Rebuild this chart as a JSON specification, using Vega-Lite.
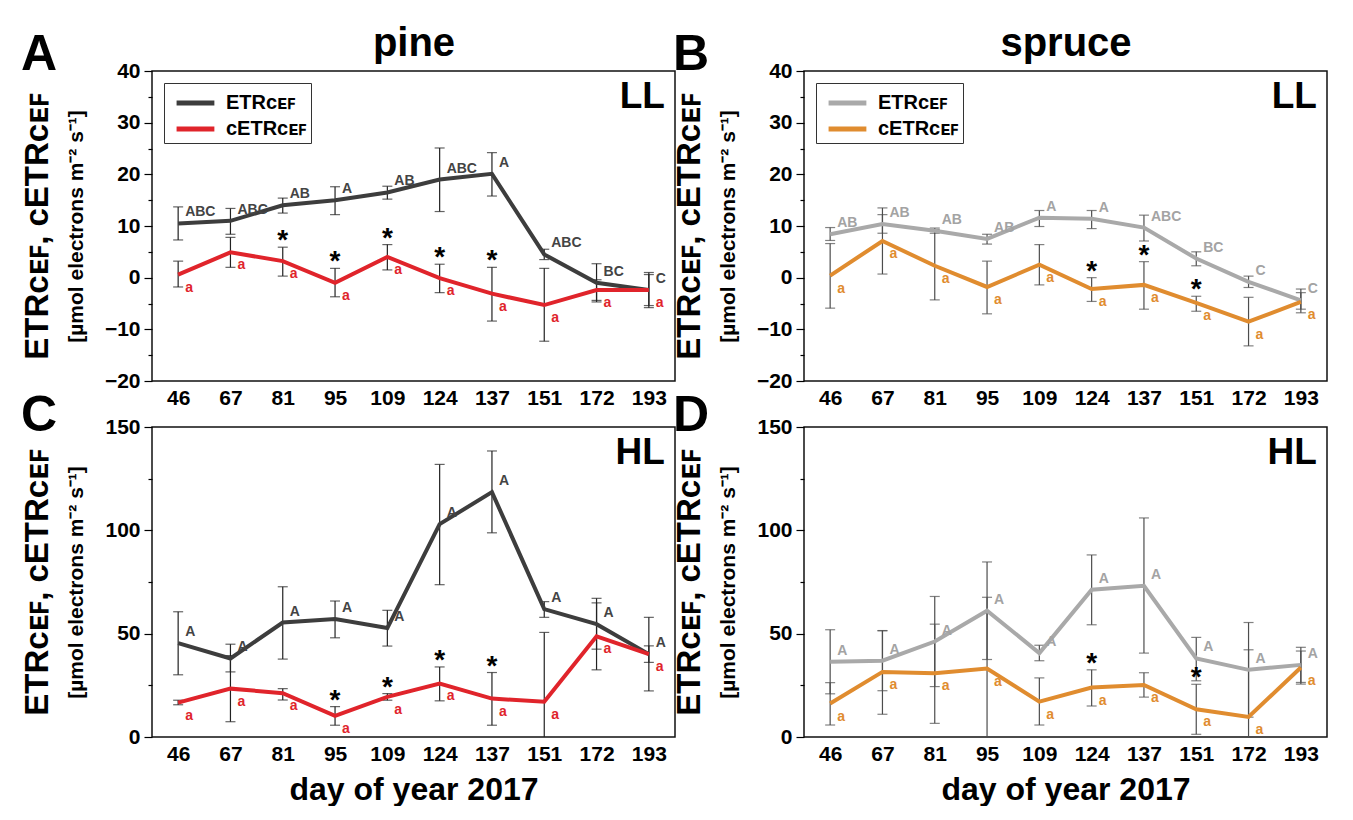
{
  "$schema": "https://vega.github.io/schema/vega-lite/v6.json",
  "background": "white",
  "padding": {"left": 20, "top": 22, "right": 0, "bottom": 0},
  "config": {
    "font": "Liberation Sans, Arial, sans-serif",
    "view": {"stroke": "#111", "strokeWidth": 1.5},
    "axis": {"labelFontWeight": "bold", "labelFontSize": 21, "labelColor": "#000", "titleFontWeight": "bold", "titleColor": "#000", "grid": false, "domain": false, "tickColor": "#000", "tickWidth": 1.2},
    "title": {"fontWeight": "bold", "color": "#000"},
    "legend": {"orient": "top-left", "offset": 12, "title": null, "strokeColor": "#333", "padding": 4, "symbolType": "M-0.55,0H2.25", "symbolStrokeWidth": 5, "symbolSize": 729, "labelFontSize": 20, "labelFontWeight": "bold", "labelColor": "#000", "rowPadding": 0, "fillColor": "white", "labelOffset": 26}
  },
  "datasets": {
    "d": [
      {"p":"A","day":"46","s":"ETR","v":10.5,"lo":7.3,"hi":13.7,"let":"ABC","star":""},
      {"p":"A","day":"67","s":"ETR","v":11.0,"lo":8.4,"hi":13.4,"let":"ABC","star":""},
      {"p":"A","day":"81","s":"ETR","v":14.0,"lo":12.5,"hi":15.4,"let":"AB","star":""},
      {"p":"A","day":"95","s":"ETR","v":15.0,"lo":12.2,"hi":17.6,"let":"A","star":""},
      {"p":"A","day":"109","s":"ETR","v":16.5,"lo":15.2,"hi":17.7,"let":"AB","star":""},
      {"p":"A","day":"124","s":"ETR","v":19.0,"lo":12.8,"hi":25.1,"let":"ABC","star":""},
      {"p":"A","day":"137","s":"ETR","v":20.1,"lo":15.8,"hi":24.2,"let":"A","star":""},
      {"p":"A","day":"151","s":"ETR","v":4.5,"lo":3.5,"hi":5.5,"let":"ABC","star":""},
      {"p":"A","day":"172","s":"ETR","v":-1.0,"lo":-4.7,"hi":2.7,"let":"BC","star":""},
      {"p":"A","day":"193","s":"ETR","v":-2.4,"lo":-5.8,"hi":1.0,"let":"C","star":""},
      {"p":"A","day":"46","s":"cETR","v":0.6,"lo":-1.8,"hi":3.2,"let":"a","star":""},
      {"p":"A","day":"67","s":"cETR","v":4.9,"lo":2.0,"hi":7.8,"let":"a","star":""},
      {"p":"A","day":"81","s":"cETR","v":3.2,"lo":0.3,"hi":5.9,"let":"a","star":"*"},
      {"p":"A","day":"95","s":"cETR","v":-1.0,"lo":-3.7,"hi":1.8,"let":"a","star":"*"},
      {"p":"A","day":"109","s":"cETR","v":4.0,"lo":1.5,"hi":6.4,"let":"a","star":"*"},
      {"p":"A","day":"124","s":"cETR","v":-0.1,"lo":-2.9,"hi":2.6,"let":"a","star":"*"},
      {"p":"A","day":"137","s":"cETR","v":-3.1,"lo":-8.4,"hi":2.0,"let":"a","star":"*"},
      {"p":"A","day":"151","s":"cETR","v":-5.3,"lo":-12.3,"hi":1.8,"let":"a","star":""},
      {"p":"A","day":"172","s":"cETR","v":-2.4,"lo":-4.4,"hi":-0.4,"let":"a","star":""},
      {"p":"A","day":"193","s":"cETR","v":-2.4,"lo":-5.4,"hi":0.6,"let":"a","star":""},

      {"p":"B","day":"46","s":"ETR","v":8.4,"lo":7.2,"hi":9.7,"let":"AB","star":""},
      {"p":"B","day":"67","s":"ETR","v":10.4,"lo":8.6,"hi":12.2,"let":"AB","star":""},
      {"p":"B","day":"81","s":"ETR","v":9.1,"lo":8.6,"hi":9.6,"let":"AB","star":""},
      {"p":"B","day":"95","s":"ETR","v":7.5,"lo":6.5,"hi":8.4,"let":"AB","star":""},
      {"p":"B","day":"109","s":"ETR","v":11.6,"lo":9.9,"hi":13.0,"let":"A","star":""},
      {"p":"B","day":"124","s":"ETR","v":11.4,"lo":9.5,"hi":13.0,"let":"A","star":""},
      {"p":"B","day":"137","s":"ETR","v":9.7,"lo":7.1,"hi":12.1,"let":"ABC","star":""},
      {"p":"B","day":"151","s":"ETR","v":3.7,"lo":2.3,"hi":5.0,"let":"BC","star":""},
      {"p":"B","day":"172","s":"ETR","v":-0.8,"lo":-1.9,"hi":0.3,"let":"C","star":""},
      {"p":"B","day":"193","s":"ETR","v":-4.4,"lo":-6.8,"hi":-2.2,"let":"C","star":""},
      {"p":"B","day":"46","s":"cETR","v":0.4,"lo":-5.9,"hi":6.6,"let":"a","star":""},
      {"p":"B","day":"67","s":"cETR","v":7.1,"lo":0.7,"hi":13.5,"let":"a","star":""},
      {"p":"B","day":"81","s":"cETR","v":2.3,"lo":-4.3,"hi":9.3,"let":"a","star":""},
      {"p":"B","day":"95","s":"cETR","v":-1.8,"lo":-7.0,"hi":3.2,"let":"a","star":""},
      {"p":"B","day":"109","s":"cETR","v":2.5,"lo":-1.4,"hi":6.4,"let":"a","star":""},
      {"p":"B","day":"124","s":"cETR","v":-2.2,"lo":-4.6,"hi":0.0,"let":"a","star":"*"},
      {"p":"B","day":"137","s":"cETR","v":-1.4,"lo":-6.1,"hi":3.1,"let":"a","star":"*"},
      {"p":"B","day":"151","s":"cETR","v":-4.9,"lo":-6.5,"hi":-3.6,"let":"a","star":"*"},
      {"p":"B","day":"172","s":"cETR","v":-8.5,"lo":-13.2,"hi":-3.8,"let":"a","star":""},
      {"p":"B","day":"193","s":"cETR","v":-4.7,"lo":-6.1,"hi":-2.9,"let":"a","star":""},

      {"p":"C","day":"46","s":"ETR","v":45.4,"lo":30.1,"hi":60.6,"let":"A","star":""},
      {"p":"C","day":"67","s":"ETR","v":38.0,"lo":31.5,"hi":44.9,"let":"A","star":""},
      {"p":"C","day":"81","s":"ETR","v":55.4,"lo":37.7,"hi":72.7,"let":"A","star":""},
      {"p":"C","day":"95","s":"ETR","v":57.1,"lo":48.0,"hi":65.8,"let":"A","star":""},
      {"p":"C","day":"109","s":"ETR","v":52.7,"lo":44.0,"hi":61.3,"let":"A","star":""},
      {"p":"C","day":"124","s":"ETR","v":103.0,"lo":73.7,"hi":131.9,"let":"A","star":""},
      {"p":"C","day":"137","s":"ETR","v":118.5,"lo":98.8,"hi":138.4,"let":"A","star":""},
      {"p":"C","day":"151","s":"ETR","v":61.9,"lo":57.9,"hi":65.5,"let":"A","star":""},
      {"p":"C","day":"172","s":"ETR","v":54.6,"lo":42.5,"hi":67.1,"let":"A","star":""},
      {"p":"C","day":"193","s":"ETR","v":40.1,"lo":22.3,"hi":57.9,"let":"A","star":""},
      {"p":"C","day":"46","s":"cETR","v":16.6,"lo":15.6,"hi":17.8,"let":"a","star":""},
      {"p":"C","day":"67","s":"cETR","v":23.4,"lo":7.4,"hi":39.4,"let":"a","star":""},
      {"p":"C","day":"81","s":"cETR","v":21.2,"lo":17.9,"hi":23.4,"let":"a","star":""},
      {"p":"C","day":"95","s":"cETR","v":10.2,"lo":5.7,"hi":14.7,"let":"a","star":"*"},
      {"p":"C","day":"109","s":"cETR","v":19.4,"lo":17.8,"hi":21.0,"let":"a","star":"*"},
      {"p":"C","day":"124","s":"cETR","v":25.9,"lo":17.5,"hi":33.9,"let":"a","star":"*"},
      {"p":"C","day":"137","s":"cETR","v":18.6,"lo":5.7,"hi":31.2,"let":"a","star":"*"},
      {"p":"C","day":"151","s":"cETR","v":17.1,"lo":-16.4,"hi":50.6,"let":"a","star":""},
      {"p":"C","day":"172","s":"cETR","v":48.7,"lo":32.5,"hi":64.9,"let":"a","star":""},
      {"p":"C","day":"193","s":"cETR","v":40.1,"lo":36.1,"hi":44.1,"let":"a","star":""},

      {"p":"D","day":"46","s":"ETR","v":36.4,"lo":20.9,"hi":51.9,"let":"A","star":""},
      {"p":"D","day":"67","s":"ETR","v":36.9,"lo":22.4,"hi":51.4,"let":"A","star":""},
      {"p":"D","day":"81","s":"ETR","v":46.2,"lo":24.4,"hi":68.0,"let":"A","star":""},
      {"p":"D","day":"95","s":"ETR","v":61.1,"lo":37.5,"hi":84.7,"let":"A","star":""},
      {"p":"D","day":"109","s":"ETR","v":40.6,"lo":36.9,"hi":44.4,"let":"A","star":""},
      {"p":"D","day":"124","s":"ETR","v":71.3,"lo":54.3,"hi":88.1,"let":"A","star":""},
      {"p":"D","day":"137","s":"ETR","v":73.2,"lo":40.6,"hi":106.0,"let":"A","star":""},
      {"p":"D","day":"151","s":"ETR","v":38.0,"lo":27.2,"hi":48.2,"let":"A","star":""},
      {"p":"D","day":"172","s":"ETR","v":32.5,"lo":9.6,"hi":55.4,"let":"A","star":""},
      {"p":"D","day":"193","s":"ETR","v":34.9,"lo":26.4,"hi":43.4,"let":"A","star":""},
      {"p":"D","day":"46","s":"cETR","v":16.2,"lo":5.8,"hi":26.3,"let":"a","star":""},
      {"p":"D","day":"67","s":"cETR","v":31.5,"lo":11.0,"hi":51.5,"let":"a","star":""},
      {"p":"D","day":"81","s":"cETR","v":30.9,"lo":6.6,"hi":54.6,"let":"a","star":""},
      {"p":"D","day":"95","s":"cETR","v":33.1,"lo":-1.4,"hi":67.6,"let":"a","star":""},
      {"p":"D","day":"109","s":"cETR","v":17.1,"lo":5.8,"hi":28.6,"let":"a","star":""},
      {"p":"D","day":"124","s":"cETR","v":23.9,"lo":15.0,"hi":32.5,"let":"a","star":"*"},
      {"p":"D","day":"137","s":"cETR","v":25.2,"lo":19.3,"hi":31.1,"let":"a","star":""},
      {"p":"D","day":"151","s":"cETR","v":13.4,"lo":1.3,"hi":25.5,"let":"a","star":"*"},
      {"p":"D","day":"172","s":"cETR","v":9.7,"lo":-22.8,"hi":42.2,"let":"a","star":""},
      {"p":"D","day":"193","s":"cETR","v":33.6,"lo":25.6,"hi":41.6,"let":"a","star":""}
    ]
  },
  "columns": 2,
  "spacing": {"row": 46, "column": 129},
  "bounds": "flush",
  "resolve": {"scale": {"color": "independent"}},
  "concat": [
    {
      "width": 523, "height": 310,
      "title": {"text": "A", "anchor": "start", "frame": "bounds", "fontSize": 50, "dy": 61},
      "data": {"name": "d"},
      "transform": [{"filter": "datum.p === 'A'"}],
      "resolve": {"axis": {"x": "independent", "y": "independent"}},
      "layer": [
        {"mark": {"type": "rule", "color": "#222", "strokeWidth": 1.2, "clip": true},
         "encoding": {
           "x": {"field": "day", "type": "ordinal", "scale": {"type": "point", "padding": 0.5, "domain": ["46","67","81","95","109","124","137","151","172","193"]}, "axis": {"orient": "bottom", "ticks": false, "labelPadding": 6, "labelAngle": 0, "title": null}},
           "y": {"field": "lo", "type": "quantitative", "scale": {"domain": [-20, 40], "nice": false, "zero": false}, "axis": {"orient": "left", "values": [-20,-15,-10,-5,0,5,10,15,20,25,30,35,40], "labelExpr": "datum.value % 10 === 0 ? datum.label : ''", "tickSize": {"condition": {"test": "datum.value % 10 === 0", "value": 8}, "value": 4}, "labelPadding": 4, "title": "[µmol electrons m⁻² s⁻¹]", "titleFontSize": 21, "titlePadding": 18}},
           "y2": {"field": "hi"}}},
        {"mark": {"type": "tick", "color": "#222", "thickness": 1.2, "size": 10, "clip": true},
         "encoding": {
           "x": {"field": "day", "type": "ordinal", "axis": {"orient": "top", "labels": false, "ticks": false, "domain": false, "title": "pine", "titleFontSize": 40, "titlePadding": 8}},
           "y": {"field": "lo", "type": "quantitative", "axis": {"orient": "left", "offset": 98, "labels": false, "ticks": false, "domain": false, "title": "ETRᴄᴇꜰ, cETRᴄᴇꜰ", "titleFontSize": 33, "titlePadding": 0}}}},
        {"mark": {"type": "tick", "color": "#222", "thickness": 1.2, "size": 10, "clip": true},
         "encoding": {"x": {"field": "day", "type": "ordinal", "axis": null}, "y": {"field": "hi", "type": "quantitative", "axis": null}}},
        {"mark": {"type": "line", "strokeWidth": 4},
         "encoding": {"x": {"field": "day", "type": "ordinal", "axis": null}, "y": {"field": "v", "type": "quantitative", "axis": null},
           "color": {"field": "s", "type": "nominal", "scale": {"domain": ["ETR", "cETR"], "range": ["#3d3d3d", "#e0242b"]}, "legend": {"labelExpr": "datum.label === 'ETR' ? 'ETRᴄᴇꜰ' : 'cETRᴄᴇꜰ'"}}}},
        {"transform": [{"filter": "datum.s === 'ETR'"}],
         "mark": {"type": "text", "align": "left", "baseline": "middle", "dx": 7, "dy": -11, "fontSize": 14, "fontWeight": "bold", "color": "#444"},
         "encoding": {"x": {"field": "day", "type": "ordinal", "axis": null}, "y": {"field": "v", "type": "quantitative", "axis": null}, "text": {"field": "let"}}},
        {"transform": [{"filter": "datum.s === 'cETR'"}],
         "mark": {"type": "text", "align": "left", "baseline": "middle", "dx": 7, "dy": 13, "fontSize": 14, "fontWeight": "bold", "color": "#e0242b"},
         "encoding": {"x": {"field": "day", "type": "ordinal", "axis": null}, "y": {"field": "v", "type": "quantitative", "axis": null}, "text": {"field": "let"}}},
        {"transform": [{"filter": "datum.star === '*'"}],
         "mark": {"type": "text", "align": "center", "baseline": "middle", "dy": -6, "fontSize": 28, "fontWeight": "bold", "color": "#000"},
         "encoding": {"x": {"field": "day", "type": "ordinal", "axis": null}, "y": {"field": "hi", "type": "quantitative", "axis": null}, "text": {"field": "star"}}},
        {"data": {"values": [{"label": "LL"}]},
         "mark": {"type": "text", "align": "right", "baseline": "top", "dx": 16, "dy": 8, "fontSize": 37, "fontWeight": "bold", "color": "#000"},
         "encoding": {"x": {"datum": "193", "type": "ordinal", "axis": null}, "y": {"datum": 40, "type": "quantitative", "axis": null}, "text": {"field": "label"}}}
      ]
    },
    {
      "width": 523, "height": 310,
      "title": {"text": "B", "anchor": "start", "frame": "bounds", "fontSize": 50, "dy": 61},
      "data": {"name": "d"},
      "transform": [{"filter": "datum.p === 'B'"}],
      "resolve": {"axis": {"x": "independent", "y": "independent"}},
      "layer": [
        {"mark": {"type": "rule", "color": "#4d4d4d", "strokeWidth": 1.2, "clip": true},
         "encoding": {
           "x": {"field": "day", "type": "ordinal", "scale": {"type": "point", "padding": 0.5, "domain": ["46","67","81","95","109","124","137","151","172","193"]}, "axis": {"orient": "bottom", "ticks": false, "labelPadding": 6, "labelAngle": 0, "title": null}},
           "y": {"field": "lo", "type": "quantitative", "scale": {"domain": [-20, 40], "nice": false, "zero": false}, "axis": {"orient": "left", "values": [-20,-15,-10,-5,0,5,10,15,20,25,30,35,40], "labelExpr": "datum.value % 10 === 0 ? datum.label : ''", "tickSize": {"condition": {"test": "datum.value % 10 === 0", "value": 8}, "value": 4}, "labelPadding": 4, "title": "[µmol electrons m⁻² s⁻¹]", "titleFontSize": 21, "titlePadding": 18}},
           "y2": {"field": "hi"}}},
        {"mark": {"type": "tick", "color": "#4d4d4d", "thickness": 1.2, "size": 10, "clip": true},
         "encoding": {
           "x": {"field": "day", "type": "ordinal", "axis": {"orient": "top", "labels": false, "ticks": false, "domain": false, "title": "spruce", "titleFontSize": 40, "titlePadding": 8}},
           "y": {"field": "lo", "type": "quantitative", "axis": {"orient": "left", "offset": 98, "labels": false, "ticks": false, "domain": false, "title": "ETRᴄᴇꜰ, cETRᴄᴇꜰ", "titleFontSize": 33, "titlePadding": 0}}}},
        {"mark": {"type": "tick", "color": "#4d4d4d", "thickness": 1.2, "size": 10, "clip": true},
         "encoding": {"x": {"field": "day", "type": "ordinal", "axis": null}, "y": {"field": "hi", "type": "quantitative", "axis": null}}},
        {"mark": {"type": "line", "strokeWidth": 4},
         "encoding": {"x": {"field": "day", "type": "ordinal", "axis": null}, "y": {"field": "v", "type": "quantitative", "axis": null},
           "color": {"field": "s", "type": "nominal", "scale": {"domain": ["ETR", "cETR"], "range": ["#a9a9a9", "#e08c2f"]}, "legend": {"labelExpr": "datum.label === 'ETR' ? 'ETRᴄᴇꜰ' : 'cETRᴄᴇꜰ'"}}}},
        {"transform": [{"filter": "datum.s === 'ETR'"}],
         "mark": {"type": "text", "align": "left", "baseline": "middle", "dx": 7, "dy": -11, "fontSize": 14, "fontWeight": "bold", "color": "#a3a3a3"},
         "encoding": {"x": {"field": "day", "type": "ordinal", "axis": null}, "y": {"field": "v", "type": "quantitative", "axis": null}, "text": {"field": "let"}}},
        {"transform": [{"filter": "datum.s === 'cETR'"}],
         "mark": {"type": "text", "align": "left", "baseline": "middle", "dx": 7, "dy": 13, "fontSize": 14, "fontWeight": "bold", "color": "#e08c2f"},
         "encoding": {"x": {"field": "day", "type": "ordinal", "axis": null}, "y": {"field": "v", "type": "quantitative", "axis": null}, "text": {"field": "let"}}},
        {"transform": [{"filter": "datum.star === '*'"}],
         "mark": {"type": "text", "align": "center", "baseline": "middle", "dy": -6, "fontSize": 28, "fontWeight": "bold", "color": "#000"},
         "encoding": {"x": {"field": "day", "type": "ordinal", "axis": null}, "y": {"field": "hi", "type": "quantitative", "axis": null}, "text": {"field": "star"}}},
        {"data": {"values": [{"label": "LL"}]},
         "mark": {"type": "text", "align": "right", "baseline": "top", "dx": 16, "dy": 8, "fontSize": 37, "fontWeight": "bold", "color": "#000"},
         "encoding": {"x": {"datum": "193", "type": "ordinal", "axis": null}, "y": {"datum": 40, "type": "quantitative", "axis": null}, "text": {"field": "label"}}}
      ]
    },
    {
      "width": 523, "height": 310,
      "title": {"text": "C", "anchor": "start", "frame": "bounds", "fontSize": 50, "dy": 29},
      "data": {"name": "d"},
      "transform": [{"filter": "datum.p === 'C'"}],
      "resolve": {"axis": {"x": "independent", "y": "independent"}},
      "layer": [
        {"mark": {"type": "rule", "color": "#222", "strokeWidth": 1.2, "clip": true},
         "encoding": {
           "x": {"field": "day", "type": "ordinal", "scale": {"type": "point", "padding": 0.5, "domain": ["46","67","81","95","109","124","137","151","172","193"]}, "axis": {"orient": "bottom", "ticks": false, "labelPadding": 6, "labelAngle": 0, "title": "day of year 2017", "titleFontSize": 32, "titlePadding": 10}},
           "y": {"field": "lo", "type": "quantitative", "scale": {"domain": [0, 150], "nice": false, "zero": false}, "axis": {"orient": "left", "values": [0,25,50,75,100,125,150], "labelExpr": "datum.value % 50 === 0 ? datum.label : ''", "tickSize": {"condition": {"test": "datum.value % 50 === 0", "value": 8}, "value": 4}, "labelPadding": 4, "title": "[µmol electrons m⁻² s⁻¹]", "titleFontSize": 21, "titlePadding": 18}},
           "y2": {"field": "hi"}}},
        {"mark": {"type": "tick", "color": "#222", "thickness": 1.2, "size": 10, "clip": true},
         "encoding": {
           "x": {"field": "day", "type": "ordinal", "axis": null},
           "y": {"field": "lo", "type": "quantitative", "axis": {"orient": "left", "offset": 98, "labels": false, "ticks": false, "domain": false, "title": "ETRᴄᴇꜰ, cETRᴄᴇꜰ", "titleFontSize": 33, "titlePadding": 0}}}},
        {"mark": {"type": "tick", "color": "#222", "thickness": 1.2, "size": 10, "clip": true},
         "encoding": {"x": {"field": "day", "type": "ordinal", "axis": null}, "y": {"field": "hi", "type": "quantitative", "axis": null}}},
        {"mark": {"type": "line", "strokeWidth": 4},
         "encoding": {"x": {"field": "day", "type": "ordinal", "axis": null}, "y": {"field": "v", "type": "quantitative", "axis": null},
           "color": {"field": "s", "type": "nominal", "scale": {"domain": ["ETR", "cETR"], "range": ["#3d3d3d", "#e0242b"]}, "legend": null}}},
        {"transform": [{"filter": "datum.s === 'ETR'"}],
         "mark": {"type": "text", "align": "left", "baseline": "middle", "dx": 7, "dy": -11, "fontSize": 14, "fontWeight": "bold", "color": "#444"},
         "encoding": {"x": {"field": "day", "type": "ordinal", "axis": null}, "y": {"field": "v", "type": "quantitative", "axis": null}, "text": {"field": "let"}}},
        {"transform": [{"filter": "datum.s === 'cETR'"}],
         "mark": {"type": "text", "align": "left", "baseline": "middle", "dx": 7, "dy": 13, "fontSize": 14, "fontWeight": "bold", "color": "#e0242b"},
         "encoding": {"x": {"field": "day", "type": "ordinal", "axis": null}, "y": {"field": "v", "type": "quantitative", "axis": null}, "text": {"field": "let"}}},
        {"transform": [{"filter": "datum.star === '*'"}],
         "mark": {"type": "text", "align": "center", "baseline": "middle", "dy": -6, "fontSize": 28, "fontWeight": "bold", "color": "#000"},
         "encoding": {"x": {"field": "day", "type": "ordinal", "axis": null}, "y": {"field": "hi", "type": "quantitative", "axis": null}, "text": {"field": "star"}}},
        {"data": {"values": [{"label": "HL"}]},
         "mark": {"type": "text", "align": "right", "baseline": "top", "dx": 16, "dy": 8, "fontSize": 37, "fontWeight": "bold", "color": "#000"},
         "encoding": {"x": {"datum": "193", "type": "ordinal", "axis": null}, "y": {"datum": 150, "type": "quantitative", "axis": null}, "text": {"field": "label"}}}
      ]
    },
    {
      "width": 523, "height": 310,
      "title": {"text": "D", "anchor": "start", "frame": "bounds", "fontSize": 50, "dy": 29},
      "data": {"name": "d"},
      "transform": [{"filter": "datum.p === 'D'"}],
      "resolve": {"axis": {"x": "independent", "y": "independent"}},
      "layer": [
        {"mark": {"type": "rule", "color": "#4d4d4d", "strokeWidth": 1.2, "clip": true},
         "encoding": {
           "x": {"field": "day", "type": "ordinal", "scale": {"type": "point", "padding": 0.5, "domain": ["46","67","81","95","109","124","137","151","172","193"]}, "axis": {"orient": "bottom", "ticks": false, "labelPadding": 6, "labelAngle": 0, "title": "day of year 2017", "titleFontSize": 32, "titlePadding": 10}},
           "y": {"field": "lo", "type": "quantitative", "scale": {"domain": [0, 150], "nice": false, "zero": false}, "axis": {"orient": "left", "values": [0,25,50,75,100,125,150], "labelExpr": "datum.value % 50 === 0 ? datum.label : ''", "tickSize": {"condition": {"test": "datum.value % 50 === 0", "value": 8}, "value": 4}, "labelPadding": 4, "title": "[µmol electrons m⁻² s⁻¹]", "titleFontSize": 21, "titlePadding": 18}},
           "y2": {"field": "hi"}}},
        {"mark": {"type": "tick", "color": "#4d4d4d", "thickness": 1.2, "size": 10, "clip": true},
         "encoding": {
           "x": {"field": "day", "type": "ordinal", "axis": null},
           "y": {"field": "lo", "type": "quantitative", "axis": {"orient": "left", "offset": 98, "labels": false, "ticks": false, "domain": false, "title": "ETRᴄᴇꜰ, cETRᴄᴇꜰ", "titleFontSize": 33, "titlePadding": 0}}}},
        {"mark": {"type": "tick", "color": "#4d4d4d", "thickness": 1.2, "size": 10, "clip": true},
         "encoding": {"x": {"field": "day", "type": "ordinal", "axis": null}, "y": {"field": "hi", "type": "quantitative", "axis": null}}},
        {"mark": {"type": "line", "strokeWidth": 4},
         "encoding": {"x": {"field": "day", "type": "ordinal", "axis": null}, "y": {"field": "v", "type": "quantitative", "axis": null},
           "color": {"field": "s", "type": "nominal", "scale": {"domain": ["ETR", "cETR"], "range": ["#a9a9a9", "#e08c2f"]}, "legend": null}}},
        {"transform": [{"filter": "datum.s === 'ETR'"}],
         "mark": {"type": "text", "align": "left", "baseline": "middle", "dx": 7, "dy": -11, "fontSize": 14, "fontWeight": "bold", "color": "#a3a3a3"},
         "encoding": {"x": {"field": "day", "type": "ordinal", "axis": null}, "y": {"field": "v", "type": "quantitative", "axis": null}, "text": {"field": "let"}}},
        {"transform": [{"filter": "datum.s === 'cETR'"}],
         "mark": {"type": "text", "align": "left", "baseline": "middle", "dx": 7, "dy": 13, "fontSize": 14, "fontWeight": "bold", "color": "#e08c2f"},
         "encoding": {"x": {"field": "day", "type": "ordinal", "axis": null}, "y": {"field": "v", "type": "quantitative", "axis": null}, "text": {"field": "let"}}},
        {"transform": [{"filter": "datum.star === '*'"}],
         "mark": {"type": "text", "align": "center", "baseline": "middle", "dy": -6, "fontSize": 28, "fontWeight": "bold", "color": "#000"},
         "encoding": {"x": {"field": "day", "type": "ordinal", "axis": null}, "y": {"field": "hi", "type": "quantitative", "axis": null}, "text": {"field": "star"}}},
        {"data": {"values": [{"label": "HL"}]},
         "mark": {"type": "text", "align": "right", "baseline": "top", "dx": 16, "dy": 8, "fontSize": 37, "fontWeight": "bold", "color": "#000"},
         "encoding": {"x": {"datum": "193", "type": "ordinal", "axis": null}, "y": {"datum": 150, "type": "quantitative", "axis": null}, "text": {"field": "label"}}}
      ]
    }
  ]
}
